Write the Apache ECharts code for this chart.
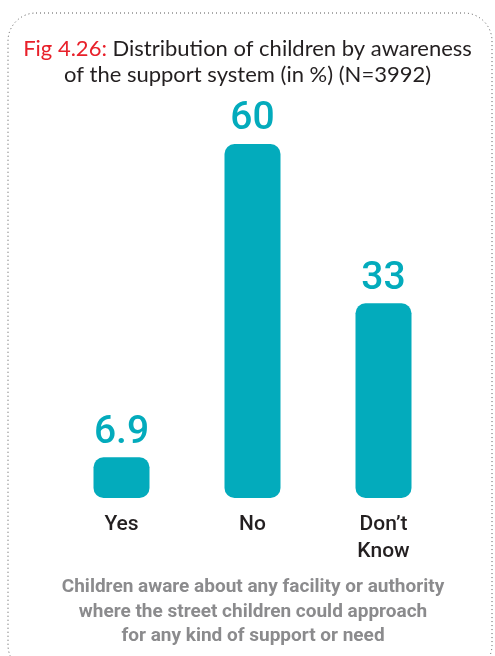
<!DOCTYPE html>
<html><head><meta charset="utf-8">
<script src="https://cdn.jsdelivr.net/npm/echarts@6/dist/echarts.min.js"></script>
<style>html,body{margin:0;padding:0;background:#fff}#c{width:495px;height:656px}</style>
</head><body><div id="c"></div>
<script>
const categories = ['Yes', 'No', "Don’t\nKnow"];
const values = [6.9, 60, 33];
const valueLabels = ['6.9', '60', '33'];
const titlePrefix = 'Fig 4.26:';
const titleLine1 = 'Distribution of children by awareness';
const titleLine2 = 'of the support system (in %) (N=3992)';
const footer = 'Children aware about any facility or authority\nwhere the street children could approach\nfor any kind of support or need';

const teal = '#03abbc';
const narrow = 'Roboto, sans-serif';
const chart = echarts.init(document.getElementById('c'), null, {renderer: 'canvas'});
chart.setOption({
  animation: false,
  backgroundColor: '#fff',
  title: {
    left: 'center', top: 31, padding: [5, 0, 5, 10],
    text: '{r|' + titlePrefix + '} ' + titleLine1 + '\n' + titleLine2,
    textStyle: {
      fontFamily: 'Lato, "Open Sans", sans-serif', fontSize: 22, fontWeight: 'normal',
      color: '#231f20', lineHeight: 26,
      rich: { r: { color: '#e8202a', fontFamily: 'Lato, "Open Sans", sans-serif', fontSize: 22, lineHeight: 26 } }
    }
  },
  grid: { left: 56, right: 46, top: 144, bottom: 158 },
  xAxis: {
    type: 'category', data: categories,
    axisLine: { show: false }, axisTick: { show: false },
    axisLabel: { fontFamily: narrow, fontSize: 21, fontWeight: 500, color: '#231f20', margin: 13, lineHeight: 27, verticalAlign: 'top' }
  },
  yAxis: { type: 'value', min: 0, max: 60, show: false, splitLine: { show: false } },
  series: [{
    type: 'bar', data: values, barWidth: 56,
    itemStyle: { color: teal, borderRadius: 10 },
    label: {
      show: true, position: 'top', distance: 5,
      formatter: p => valueLabels[p.dataIndex],
      fontFamily: narrow, fontSize: 39, fontWeight: 500, color: teal
    }
  }],
  graphic: [
    { type: 'rect', shape: { x: 8, y: 13, width: 484, height: 660, r: 28 },
      style: { fill: 'none', stroke: '#555', lineWidth: 1, lineDash: [1, 3] }, silent: true },
    { type: 'text', x: 253, y: 575,
      style: { text: footer, fontFamily: narrow, fontSize: 19, fontWeight: 'bold', fill: '#8b8b8d', lineHeight: 24.5, align: 'center', verticalAlign: 'top' } }
  ]
});
</script></body></html>
